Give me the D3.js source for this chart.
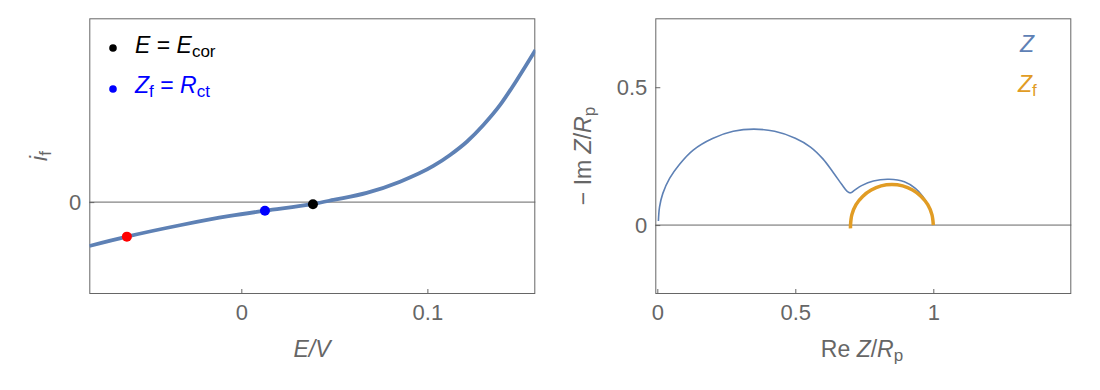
<!DOCTYPE html>
<html>
<head>
<meta charset="utf-8">
<script src="https://cdn.jsdelivr.net/npm/d3@7"></script>
<style>
  body { margin: 0; background: #fff; }
  svg text { font-family: "Liberation Sans", Arial, sans-serif; }
</style>
</head>
<body>
<svg id="chart" width="1100" height="390"></svg>
<script>
// left panel: faradaic current vs potential
var curveE = [-0.0817, -0.0615, -0.033, -0.0061, 0.0127, 0.0385, 0.0495, 0.0674, 0.0853, 0.1032, 0.1122, 0.1212, 0.1301, 0.1391, 0.1481, 0.1581];
var curveI = [-0.478, -0.376, -0.252, -0.151, -0.094, -0.02, 0.024, 0.1, 0.222, 0.393, 0.513, 0.657, 0.839, 1.057, 1.329, 1.655];
var markE = [-0.0615, 0.0127, 0.0385];
var markI = [-0.376, -0.094, -0.024];
var markColors = ["#ff0000", "#0000ff", "#000000"];
var leftXTicks = [0, 0.1];
var leftYTicks = [0];

// right panel: Nyquist plot
var zRe = [0.004, 0.008, 0.02, 0.045, 0.08, 0.13, 0.2, 0.275, 0.35, 0.425, 0.5, 0.555, 0.6, 0.638, 0.67, 0.688, 0.7, 0.715, 0.74, 0.783, 0.84, 0.895, 0.935, 0.962, 0.98, 0.995, 1.0];
var zIm = [0.015, 0.065, 0.115, 0.17, 0.22, 0.272, 0.314, 0.34, 0.348, 0.34, 0.315, 0.283, 0.24, 0.19, 0.145, 0.122, 0.117, 0.127, 0.143, 0.16, 0.166, 0.157, 0.133, 0.104, 0.074, 0.038, 0.0];
var zfRe = [0.70, 0.70, 0.705, 0.72, 0.744, 0.775, 0.811, 0.85, 0.889, 0.925, 0.956, 0.98, 0.995, 1.0];
var zfIm = [-0.012, 0.0, 0.038, 0.074, 0.104, 0.127, 0.142, 0.147, 0.142, 0.127, 0.104, 0.074, 0.038, 0.0];
var rightXTicks = [0, 0.5, 1];
var rightYTicks = [0, 0.5];

var gray = "#666",
    lineBlue = "#5e81b5",
    orange = "#e19c24";

var svg = d3.select("#chart");

function zip(a, b) {
    return a.map(function (v, i) { return [v, b[i]]; });
}

function panel(id, x, y, xTicks, yTicks) {
    var g = svg.append("g");
    var x0 = x.range()[0], x1 = x.range()[1],
        y0 = y.range()[0], y1 = y.range()[1];

    g.append("clipPath").attr("id", id)
        .append("rect")
        .attr("x", x0).attr("y", y1)
        .attr("width", x1 - x0).attr("height", y0 - y1);

    // axes with inward ticks
    var ax = g.append("g")
        .attr("transform", "translate(0," + y0 + ")")
        .call(d3.axisBottom(x).tickValues(xTicks).tickFormat(function (d) { return String(d); })
            .tickSizeInner(-5).tickSizeOuter(0).tickPadding(10));
    var ay = g.append("g")
        .attr("transform", "translate(" + x0 + ",0)")
        .call(d3.axisLeft(y).tickValues(yTicks).tickFormat(function (d) { return String(d); })
            .tickSizeInner(-5).tickSizeOuter(0).tickPadding(8));
    [ax, ay].forEach(function (a) {
        a.select(".domain").remove();
        a.selectAll("line").attr("stroke", gray);
        a.selectAll("text").attr("fill", gray).style("font-size", "22px");
    });

    // zero line
    g.append("line")
        .attr("x1", x0).attr("x2", x1)
        .attr("y1", y(0)).attr("y2", y(0))
        .attr("stroke", gray).attr("stroke-width", 1);

    // frame
    g.append("rect")
        .attr("x", x0 + 0.5).attr("y", y1 + 0.5)
        .attr("width", x1 - x0 - 1).attr("height", y0 - y1 - 1)
        .attr("fill", "none").attr("stroke", gray).attr("stroke-width", 1);

    return g.append("g").attr("clip-path", "url(#" + id + ")");
}

// ---- left panel
var xL = d3.scaleLinear().domain([-0.0817, 0.158]).range([89.3, 535.3]);
var yL = d3.scaleLinear().domain([-1, 2]).range([294, 18.3]);
var gL = panel("clipL", xL, yL, leftXTicks, leftYTicks);

var lineL = d3.line()
    .x(function (d) { return xL(d[0]); })
    .y(function (d) { return yL(d[1]); })
    .curve(d3.curveMonotoneX);

gL.append("path")
    .datum(zip(curveE, curveI))
    .attr("d", lineL)
    .attr("fill", "none")
    .attr("stroke", lineBlue)
    .attr("stroke-width", 3.8);

gL.selectAll("circle.mark")
    .data(zip(markE, markI))
    .enter().append("circle")
    .attr("cx", function (d) { return xL(d[0]); })
    .attr("cy", function (d) { return yL(d[1]); })
    .attr("r", 5)
    .attr("fill", function (d, i) { return markColors[i]; });

// legend
var leg = svg.append("g").style("font-size", "23px");
leg.append("circle").attr("cx", 113).attr("cy", 48).attr("r", 3.8).attr("fill", "#000");
var t1 = leg.append("text").attr("x", 135).attr("y", 53).attr("fill", "#000");
t1.append("tspan").style("font-style", "italic").text("E");
t1.append("tspan").text(" = ");
t1.append("tspan").style("font-style", "italic").text("E");
t1.append("tspan").attr("dy", 4).style("font-size", "17px").text("cor");

leg.append("circle").attr("cx", 113).attr("cy", 89).attr("r", 3.8).attr("fill", "#0000ff");
var t2 = leg.append("text").attr("x", 135).attr("y", 93).attr("fill", "#0000ff");
t2.append("tspan").style("font-style", "italic").text("Z");
t2.append("tspan").attr("dy", 4).style("font-size", "17px").text("f");
t2.append("tspan").attr("dy", -4).text(" = ");
t2.append("tspan").style("font-style", "italic").text("R");
t2.append("tspan").attr("dy", 4).style("font-size", "17px").text("ct");

// axis labels
svg.append("text")
    .attr("x", 312).attr("y", 357)
    .attr("text-anchor", "middle")
    .attr("fill", gray).style("font-size", "23px").style("font-style", "italic")
    .text("E/V");

var yl = svg.append("text")
    .attr("transform", "translate(47,156) rotate(-90)")
    .attr("text-anchor", "middle")
    .attr("fill", gray).style("font-size", "23px");
yl.append("tspan").style("font-style", "italic").text("i");
yl.append("tspan").attr("dy", 4).style("font-size", "17px").text("f");

// ---- right panel
var xR = d3.scaleLinear().domain([-0.0073, 1.5]).range([655.3, 1071.3]);
var yR = d3.scaleLinear().domain([-0.25, 0.75]).range([294, 18.3]);
var gR = panel("clipR", xR, yR, rightXTicks, rightYTicks);

var lineR = d3.line()
    .x(function (d) { return xR(d[0]); })
    .y(function (d) { return yR(d[1]); })
    .curve(d3.curveCatmullRom);

gR.append("path")
    .datum(zip(zRe, zIm))
    .attr("d", lineR)
    .attr("fill", "none")
    .attr("stroke", lineBlue)
    .attr("stroke-width", 1.6);

gR.append("path")
    .datum(zip(zfRe, zfIm))
    .attr("d", lineR)
    .attr("fill", "none")
    .attr("stroke", orange)
    .attr("stroke-width", 3.5);

// legend
var legR = svg.append("g").style("font-size", "23px").style("font-style", "italic");
legR.append("text").attr("x", 1020).attr("y", 52).attr("fill", lineBlue).text("Z");
var tz = legR.append("text").attr("x", 1018).attr("y", 92).attr("fill", orange);
tz.append("tspan").text("Z");
tz.append("tspan").attr("dy", 4).style("font-size", "17px").style("font-style", "normal").text("f");

// axis labels
var xr = svg.append("text")
    .attr("x", 862).attr("y", 357)
    .attr("text-anchor", "middle")
    .attr("fill", gray).style("font-size", "23px");
xr.append("tspan").text("Re ");
xr.append("tspan").style("font-style", "italic").text("Z");
xr.append("tspan").text("/");
xr.append("tspan").style("font-style", "italic").text("R");
xr.append("tspan").attr("dy", 4).style("font-size", "17px").text("p");

var yr = svg.append("text")
    .attr("transform", "translate(591,156) rotate(-90)")
    .attr("text-anchor", "middle")
    .attr("fill", gray).style("font-size", "23px");
yr.append("tspan").text("\u2212 Im ");
yr.append("tspan").style("font-style", "italic").text("Z");
yr.append("tspan").text("/");
yr.append("tspan").style("font-style", "italic").text("R");
yr.append("tspan").attr("dy", 4).style("font-size", "17px").text("p");
</script>
</body>
</html>
